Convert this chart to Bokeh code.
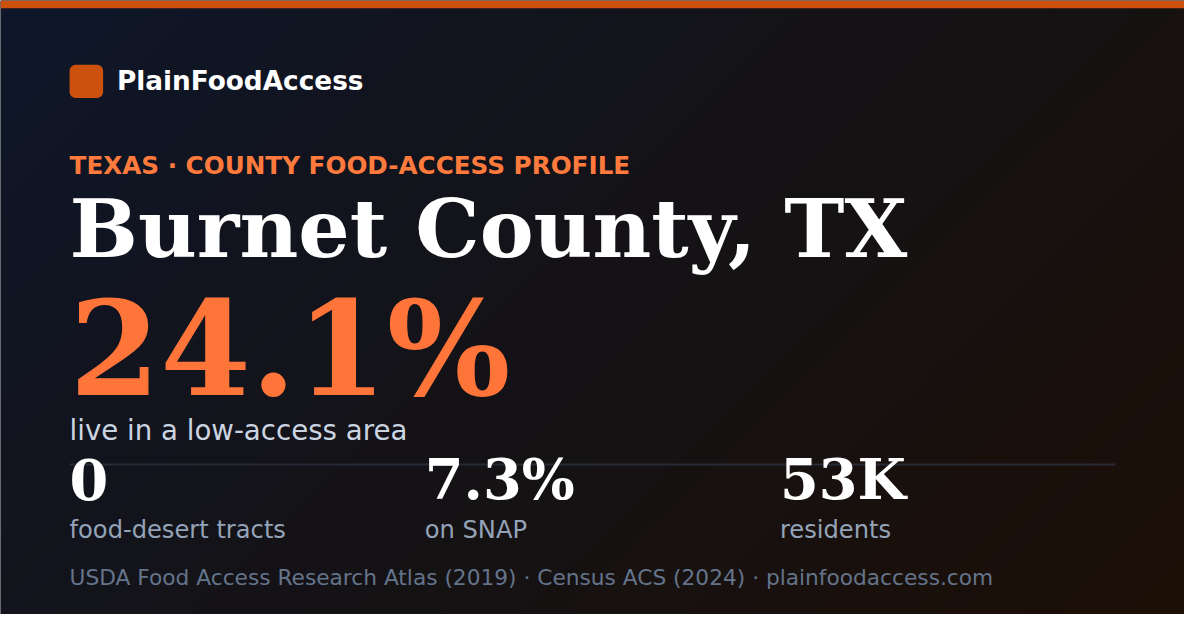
import numpy as np
from bokeh.plotting import figure
from bokeh.models import Range1d, BoxAnnotation
from bokeh.core.properties import value
from bokeh.embed import file_html
from bokeh.resources import INLINE

# ---- data ----
brand = "PlainFoodAccess"
kicker = "TEXAS · COUNTY FOOD-ACCESS PROFILE"
county = "Burnet County, TX"
headline_value = "24.1%"
headline_label = "live in a low-access area"
stat_values = ["0", "7.3%", "53K"]
stat_labels = ["food-desert tracts", "on SNAP", "residents"]
footer = "USDA Food Access Research Atlas (2019) · Census ACS (2024) · plainfoodaccess.com"

# ---- layout (card coordinates, y measured from top) ----
W, H = 1200, 630
FW, FH = 1184, 614
S = FW / W
BASE_SHIFT = 0.385  # compensation so that y is the alphabetic baseline

def Y(v):
    return H - v

def px(n):
    return f"{n * S:.2f}px"

p = figure(width=FW, height=FH, x_range=Range1d(0, W), y_range=Range1d(0, H),
           output_backend="svg", toolbar_location=None, min_border=0)
p.axis.visible = False
p.grid.visible = False
p.outline_line_color = None
p.background_fill_color = "#141419"
p.border_fill_color = "#141419"

# background gradient (135deg)
gw, gh = 400, 210
xs = np.linspace(0, W, gw)[None, :]
ys = np.linspace(0, H, gh)[:, None]
t = (xs + ys) / (W + H)
stops_t = [0.0, 0.45, 1.0]
stops_c = [(15, 23, 42), (20, 19, 24), (28, 15, 6)]
img = np.zeros((gh, gw), dtype=np.uint32)
view = img.view(dtype=np.uint8).reshape((gh, gw, 4))
for k in range(3):
    view[:, :, k] = np.interp(t, stops_t, [c[k] for c in stops_c]).astype(np.uint8)
view[:, :, 3] = 255
view[:] = view[::-1]  # row 0 at bottom
p.image_rgba(image=[img], x=0, y=0, dw=W, dh=H)

# top accent bar
p.quad(left=[0], right=[W], top=[Y(0)], bottom=[Y(8)], fill_color="#cc500e", line_color=None)

# logo
p.add_layout(BoxAnnotation(left=70, right=104, top=Y(66), bottom=Y(100), fill_color="#cc500e",
                           fill_alpha=1, line_color=None, border_radius=6))

def txt(x, y, s, size, color, font="DejaVu Sans", style="normal"):
    p.text(x=[x], y=[Y(y - BASE_SHIFT * size)], text=[s], text_font=value(font),
           text_font_style=style, text_font_size=px(size), text_color=color,
           text_baseline="alphabetic", text_align="left")

txt(118, 93, brand, 26.7, "#ffffff", style="bold")
txt(70, 178.5, kicker, 25, "#ff7a3d", style="bold")
txt(70, 266, county, 82, "#ffffff", font="DejaVu Serif", style="bold")
txt(70, 409, headline_value, 132, "#ff7539", font="DejaVu Serif", style="bold")
txt(70, 452, headline_label, 28, "#cbd5e1")

# divider
p.line(x=[70, 1130], y=[Y(476), Y(476)], line_color="#262b36", line_width=2)

stat_x = [70, 430, 790]
for sx, v, lab in zip(stat_x, stat_values, stat_labels):
    txt(sx, 513, v, 56.5, "#ffffff", font="DejaVu Serif", style="bold")
    txt(sx, 553, lab, 24.5, "#94a3b8")

txt(70, 600, footer, 22, "#64748b")

open("out.html", "w").write(file_html(p, INLINE))
